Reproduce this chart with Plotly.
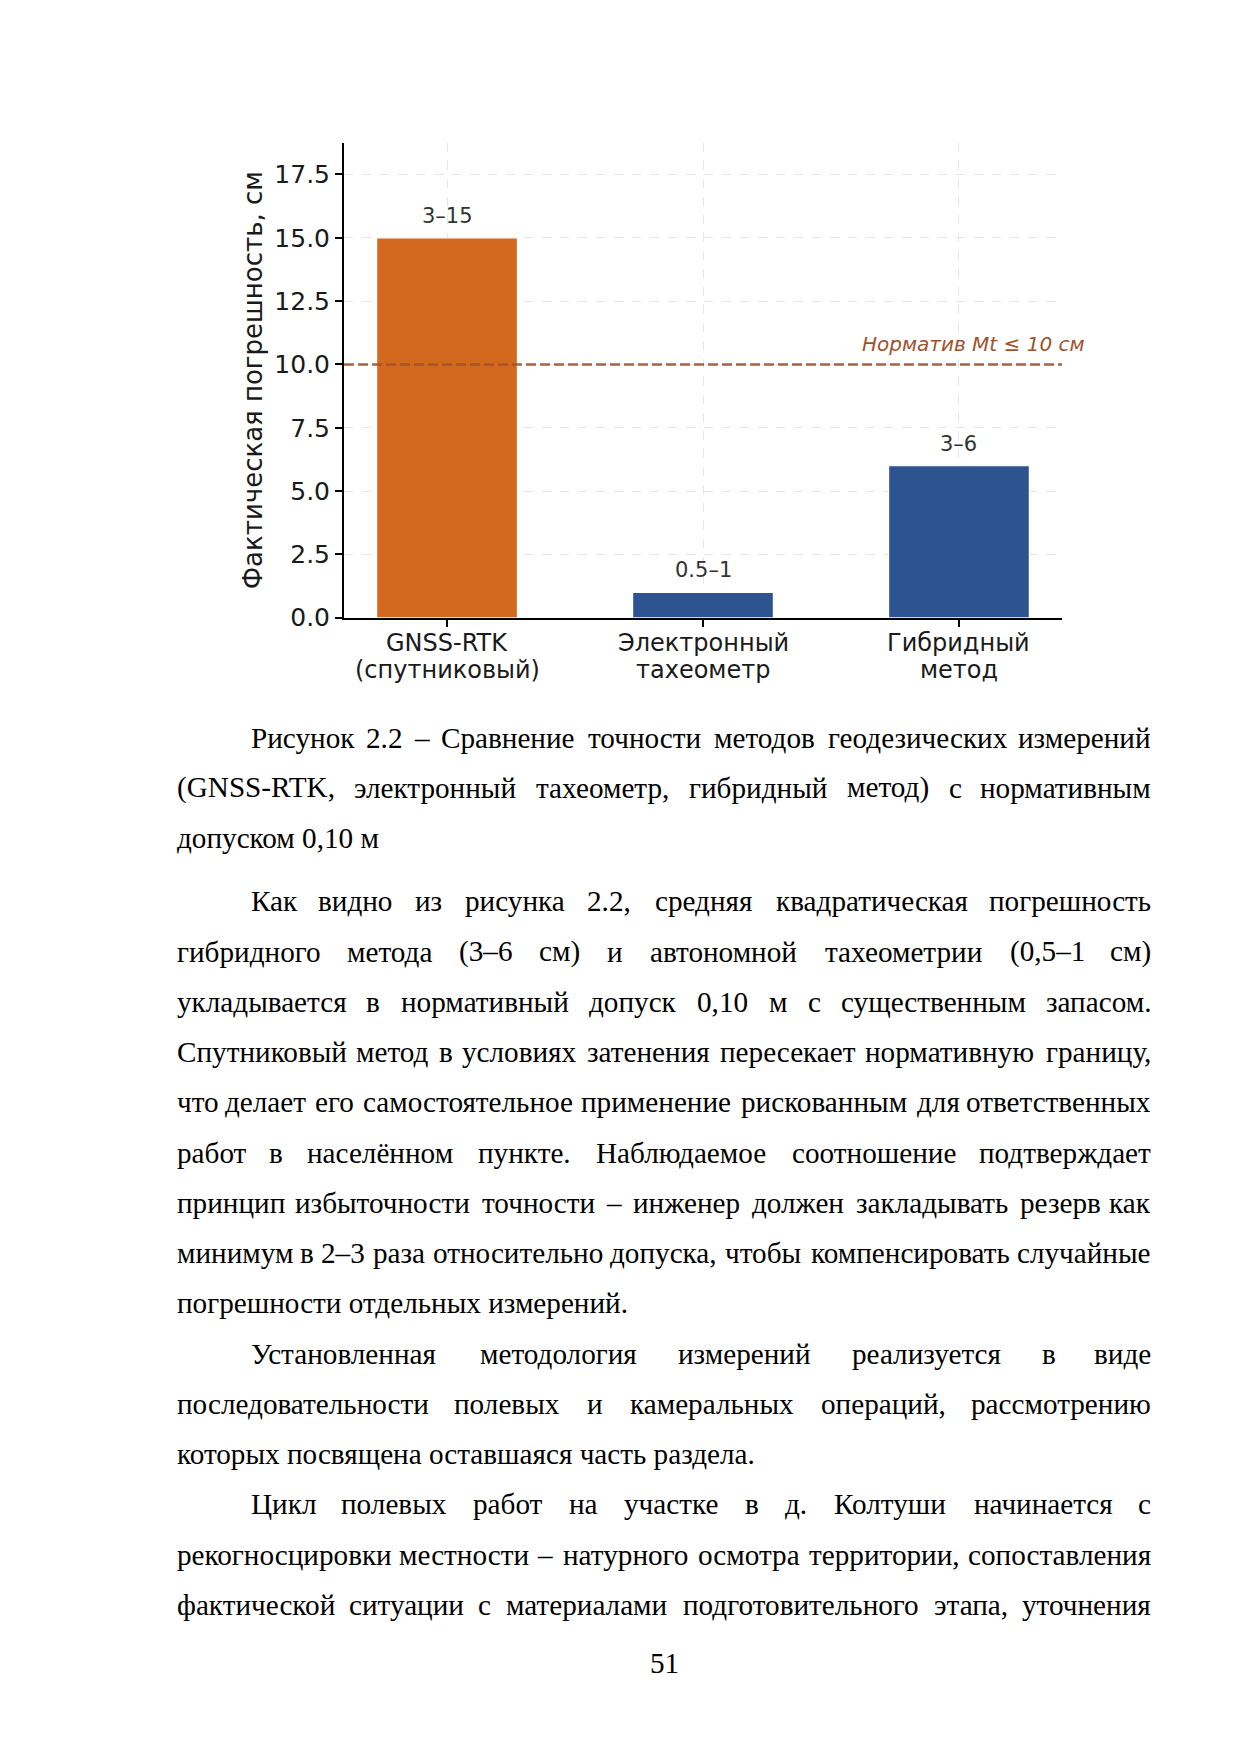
import plotly.graph_objects as go

W, H = 1241, 1754
OFF = 8  # default page margin in front of the plot div

# chart data
methods = ["GNSS-RTK\n(спутниковый)", "Электронный\nтахеометр", "Гибридный\nметод"]
error_max = [15, 1, 6]
error_labels = ["3–15", "0.5–1", "3–6"]
bar_colors = ["#D2691E", "#2E5391", "#2E5391"]
norm_cm = 10
norm_label = "Норматив Mt ≤ 10 см"
y_ticks = [0, 2.5, 5, 7.5, 10, 12.5, 15, 17.5]
y_title = "Фактическая погрешность, см"

# page text, line by line as on the page
caption = [
    "Рисунок 2.2 – Сравнение точности методов геодезических измерений",
    "(GNSS-RTK, электронный тахеометр, гибридный метод) с нормативным",
    "допуском 0,10 м",
]
para_1 = [
    "Как видно из рисунка 2.2, средняя квадратическая погрешность",
    "гибридного метода (3–6 см) и автономной тахеометрии (0,5–1 см)",
    "укладывается в нормативный допуск 0,10 м с существенным запасом.",
    "Спутниковый метод в условиях затенения пересекает нормативную границу,",
    "что делает его самостоятельное применение рискованным для ответственных",
    "работ в населённом пункте. Наблюдаемое соотношение подтверждает",
    "принцип избыточности точности – инженер должен закладывать резерв как",
    "минимум в 2–3 раза относительно допуска, чтобы компенсировать случайные",
    "погрешности отдельных измерений.",
]
para_2 = [
    "Установленная методология измерений реализуется в виде",
    "последовательности полевых и камеральных операций, рассмотрению",
    "которых посвящена оставшаяся часть раздела.",
]
para_3 = [
    "Цикл полевых работ на участке в д. Колтуши начинается с",
    "рекогносцировки местности – натурного осмотра территории, сопоставления",
    "фактической ситуации с материалами подготовительного этапа, уточнения",
]
page_number = "51"


def px(x):
    return (x - OFF) / W


def py(y):
    return 1 - (y - OFF) / H


# rough Times / Liberation Serif advance widths (em), used to justify lines
_w = {
    " ": .25, ".": .25, ",": .25, "-": .333, "–": .5, "(": .333, ")": .333,
    "а": .444, "б": .509, "в": .472, "г": .41, "д": .5, "е": .444, "ё": .444,
    "ж": .691, "з": .395, "и": .535, "й": .535, "к": .486, "л": .499, "м": .633,
    "н": .535, "о": .5, "п": .535, "р": .5, "с": .444, "т": .437, "у": .5,
    "ф": .648, "х": .5, "ц": .535, "ч": .503, "ш": .77, "щ": .77, "ъ": .517,
    "ы": .672, "ь": .456, "э": .429, "ю": .747, "я": .486,
    "Р": .556, "С": .667, "К": .667, "Н": .722, "У": .708, "Ц": .722,
    "G": .722, "N": .722, "S": .556, "R": .667, "T": .611, "K": .722,
}


def text_width(s, size):
    return sum(_w.get(c, .5) for c in s) * size


TEXT_SIZE = 29.2
LEFT, RIGHT, INDENT = 175, 1153, 74
STEP = 50.7
text_font = dict(family="Liberation Serif", size=TEXT_SIZE, color="black")

annotations = []


def add_line(line, y, indent, justify):
    x0 = LEFT + (INDENT if indent else 0)
    if not justify:
        annotations.append(dict(xref="paper", yref="paper", x=px(x0), y=py(y),
                                xanchor="left", yanchor="middle", text=line,
                                showarrow=False, font=text_font))
        return
    words = line.split(" ")
    widths = [text_width(w, TEXT_SIZE) for w in words]
    gap = (RIGHT - x0 - sum(widths)) / (len(words) - 1)
    cur = x0
    for i, (word, wd) in enumerate(zip(words, widths)):
        if i == 0:
            x, anchor = cur, "left"
        elif i == len(words) - 1:
            x, anchor = RIGHT, "right"
        else:
            x, anchor = cur + wd / 2, "center"
        annotations.append(dict(xref="paper", yref="paper", x=px(x), y=py(y),
                                xanchor=anchor, yanchor="middle", text=word,
                                showarrow=False, font=text_font))
        cur += wd + gap


def add_paragraph(lines, y0, last_is_end=True):
    for i, line in enumerate(lines):
        last = i == len(lines) - 1
        add_line(line, y0 + i * STEP, i == 0, not (last and last_is_end))


add_paragraph(caption, 744)
y = 909
add_paragraph(para_1, y)
y += len(para_1) * STEP
add_paragraph(para_2, y)
y += len(para_2) * STEP
add_paragraph(para_3, y, last_is_end=False)

annotations.append(dict(xref="paper", yref="paper", x=px(664), y=py(1677),
                        xanchor="center", yanchor="middle", text=page_number,
                        showarrow=False, font=text_font))

# chart annotations
sans = "DejaVu Sans"
AXIS_Y, TOP_Y = 623, 144  # pixel rows of the x axis and the top of the y axis
X_RANGE = [-0.4025, 2.4025]
for i, (v, lab) in enumerate(zip(error_max, error_labels)):
    annotations.append(dict(x=i, y=v, xref="x", yref="y", text=lab, showarrow=False,
                            yanchor="middle", yshift=22,
                            font=dict(family=sans, size=21, color="#333333")))

# category labels, two lines each, tighter than plotly's tick label spacing
for i, name in enumerate(methods):
    for j, part in enumerate(name.split("\n")):
        annotations.append(dict(x=i, xref="x", yref="paper", y=py(AXIS_Y + 25 + 28 * j),
                                text=part, showarrow=False, yanchor="middle",
                                font=dict(family=sans, size=24, color="#1a1a1a")))

annotations.append(dict(xref="paper", yref="y", x=px(1087), y=norm_cm + 0.8,
                        xanchor="right", yanchor="middle", text=norm_label,
                        showarrow=False,
                        font=dict(family=sans, size=20, color="#A0522D", style="italic")))

annotations.append(dict(xref="paper", yref="paper", x=px(253), y=py((AXIS_Y + TOP_Y) / 2),
                        text=y_title, textangle=-90, showarrow=False,
                        xanchor="center", yanchor="middle",
                        font=dict(family=sans, size=26, color="#1a1a1a")))

fig = go.Figure()
# norm line first, so the bars cover it
fig.add_trace(go.Scatter(
    x=X_RANGE, y=[norm_cm, norm_cm], mode="lines", cliponaxis=False,
    line=dict(color="rgba(160,82,45,0.9)", width=2.6, dash="10px,4px"),
    hoverinfo="skip",
))
fig.add_trace(go.Bar(
    x=list(range(len(methods))),
    y=error_max,
    width=0.55,
    marker=dict(color=bar_colors, line=dict(color="white", width=1.2)),
    hoverinfo="skip",
))

fig.update_layout(
    width=W, height=H,
    margin=dict(l=0, r=0, t=0, b=0),
    paper_bgcolor="white", plot_bgcolor="white",
    showlegend=False,
    annotations=annotations,
    xaxis=dict(
        domain=[px(344), px(1062)],
        range=X_RANGE,
        tickmode="array", tickvals=list(range(len(methods))), showticklabels=False,
        ticks="outside", ticklen=7, tickwidth=1.5, tickcolor="black",
        showline=True, linecolor="black", linewidth=2,
        showgrid=True, gridcolor="#e6e6e6", griddash="dash", gridwidth=1,
        zeroline=False,
    ),
    yaxis=dict(
        domain=[py(AXIS_Y), py(TOP_Y)],
        range=[0, 18.75],
        tickmode="array", tickvals=y_ticks, tickformat=".1f",
        ticks="outside", ticklen=7, tickwidth=1.5, tickcolor="black",
        showline=True, linecolor="black", linewidth=2,
        showgrid=True, gridcolor="#e6e6e6", griddash="dash", gridwidth=1,
        zeroline=False,
        tickfont=dict(family=sans, size=25, color="#1a1a1a"),
    ),
)

fig.write_html("out.html")
